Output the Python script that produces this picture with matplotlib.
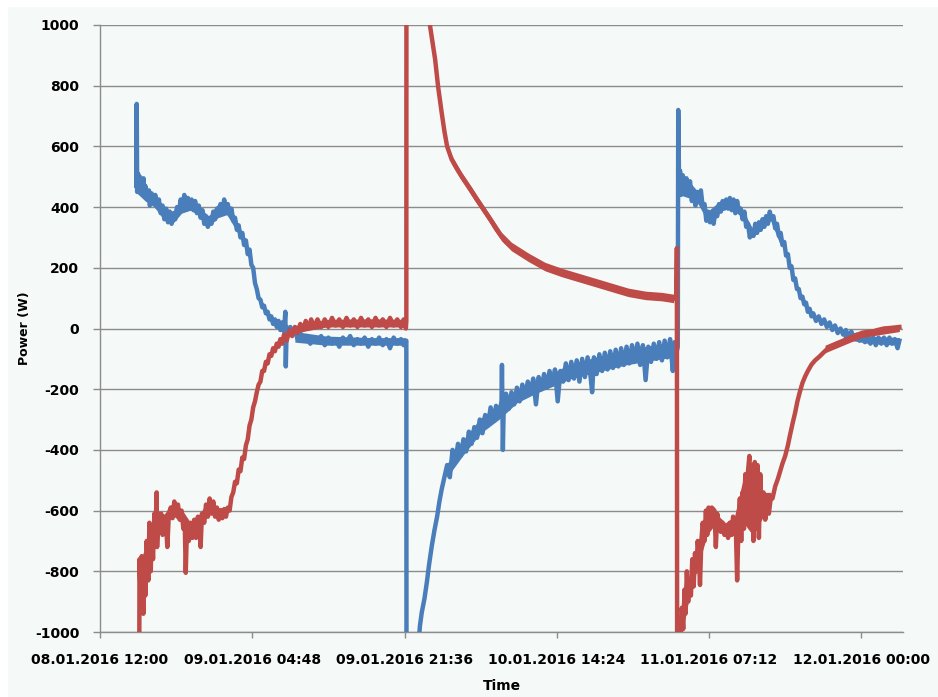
import numpy as np
import pandas as pd
import matplotlib
matplotlib.use('Agg')
import matplotlib.pyplot as plt
import matplotlib.dates as mdates
from matplotlib.patches import Rectangle

# start of the record and tick step
start = pd.Timestamp('2016-01-08 12:00')
tick_step_h = 16.8
n_ticks = 6

# blue series: hours after start, power in W
blue_hours = [
    4.00, 4.05, 4.10, 4.2, 4.3, 4.4, 4.5, 4.6, 4.7, 4.8, 4.9, 5.0, 5.2, 5.4, 5.5, 5.7, 5.9,
    6.1, 6.3, 6.5, 6.7, 6.9, 7.1, 7.3, 7.5, 7.7, 7.9, 8.1, 8.3, 8.5, 8.7, 8.9, 9.1, 9.3,
    9.5, 9.7, 9.9, 10.1, 10.3, 10.5, 10.7, 10.9, 11.1, 11.3, 11.5, 11.7, 11.9, 12.1, 12.3,
    12.5, 12.7, 12.9, 13.1, 13.3, 13.5, 13.7, 13.9, 14.1, 14.3, 14.5, 14.7, 14.9, 15.1,
    15.3, 15.5, 15.7, 15.9, 16.1, 16.3, 16.5, 16.7, 16.9, 17.1, 17.3, 17.5, 17.7, 17.9,
    18.1, 18.3, 18.5, 18.7, 18.9, 19.1, 19.3, 19.5, 19.7, 19.9, 20.1, 20.3, 20.45, 20.5,
    20.6, 20.8, 21.0, 21.2, 21.5, 21.8, 22.1, 22.4, 22.8, 23.2, 23.6, 24.0, 24.4, 24.8,
    25.2, 25.6, 26.0, 26.4, 26.8, 27.2, 27.6, 28.0, 28.4, 28.8, 29.2, 29.6, 30.0, 30.4,
    30.8, 31.2, 31.6, 32.0, 32.4, 32.8, 33.2, 33.5, 33.8, 33.82,
    35.0, 35.3, 35.5, 35.8, 36.06, 36.3, 36.6, 36.9, 37.2, 37.45, 37.7, 38.0, 38.3, 38.6,
    38.9, 39.2, 39.5, 39.8, 40.1, 40.4, 40.7, 41.0, 41.3, 41.6, 41.9, 42.2, 42.5, 42.8,
    43.1, 43.4, 43.7, 44.0, 44.3, 44.35, 44.45, 44.55, 44.8, 45.1, 45.4, 45.7, 46.0, 46.3,
    46.6, 46.9, 47.2, 47.5, 47.8, 48.1, 48.4, 48.7, 49.0, 49.3, 49.6, 49.9, 50.2, 50.5,
    50.8, 51.1, 51.4, 51.7, 52.0, 52.3, 52.6, 52.9, 53.2, 53.5, 53.8, 54.1, 54.3, 54.5,
    54.8, 55.1, 55.4, 55.7, 56.0, 56.3, 56.6, 56.9, 57.2, 57.5, 57.8, 58.1, 58.4, 58.7,
    59.0, 59.3, 59.6, 59.9, 60.2, 60.5, 60.8, 61.1, 61.4, 61.7, 62.0, 62.3, 62.6, 62.9,
    63.2, 63.4, 63.6, 63.75, 63.8, 63.9,
    64.0, 64.1, 64.3, 64.5, 64.7, 64.9, 65.1, 65.3, 65.5, 65.7, 65.9, 66.1, 66.3, 66.5,
    66.7, 66.9, 67.1, 67.3, 67.5, 67.7, 67.9, 68.1, 68.3, 68.5, 68.7, 68.9, 69.1, 69.3,
    69.5, 69.7, 69.9, 70.1, 70.3, 70.5, 70.7, 70.9, 71.1, 71.3, 71.5, 71.7, 71.9, 72.1,
    72.3, 72.5, 72.7, 72.9, 73.1, 73.3, 73.5, 73.7, 73.9, 74.1, 74.3, 74.5, 74.7, 74.9,
    75.1, 75.3, 75.5, 75.7, 75.9, 76.1, 76.3, 76.5, 76.7, 76.9, 77.1, 77.3, 77.5, 77.7,
    77.9, 78.1, 78.3, 78.5, 78.7, 79.0, 79.3, 79.6, 79.9, 80.2, 80.5, 80.8, 81.1, 81.4,
    81.7, 82.0, 82.3, 82.6, 82.9, 83.2, 83.5, 83.8, 84.1, 84.4, 84.7, 85.0, 85.3, 85.6,
    85.9, 86.2, 86.5, 86.8, 87.1, 87.4, 87.7, 88.0, 88.2,
]
blue_watts = [
    470, 740, 450, 510, 455, 500, 450, 490, 460, 495, 445, 470, 425, 455, 405, 445, 415,
    440, 400, 425, 380, 405, 360, 395, 350, 385, 345, 380, 360, 400, 380, 425, 395, 440,
    405, 430, 395, 425, 390, 420, 380, 405, 365, 390, 345, 370, 335, 365, 345,
    385, 360, 395, 375, 410, 380, 425, 390, 410, 375, 395, 355, 365, 325,
    340, 300, 315, 275, 290, 245, 260, 210, 200, 150, 130, 100, 95, 70,
    75, 50, 55, 30, 40, 15, 30, 5, 25, -5, 20, -10, 55, -125,
    5, -15, 5, -20, -5, -35, -15, -40, -25, -50, -30, -45, -25, -55,
    -30, -50, -35, -60, -30, -45, -25, -55, -35, -50, -30, -60, -35, -50,
    -30, -55, -35, -65, -30, -50, -35, -55, -40, -1300,
    -1100, -980, -936, -890, -837, -780, -718, -665, -619, -570, -530, -490, -450, -490,
    -400, -440, -380, -420, -365, -405, -340, -380, -325, -360, -300, -345, -285, -320,
    -260, -305, -255, -290, -240, -120, -400, -250, -215, -265, -210, -250, -195, -240,
    -185, -225, -175, -215, -165, -250, -160, -200, -150, -195, -140, -185, -135, -240,
    -140, -175, -115, -170, -110, -165, -105, -175, -100, -160, -95, -150, -210, -95,
    -150, -85, -140, -80, -135, -75, -130, -70, -125, -65, -120, -60, -115, -55,
    -105, -50, -120, -55, -170, -60, -110, -50, -100, -45, -105, -40, -95, -35,
    -140, -45, -80, -60, 720, 460,
    520, 440, 505, 450, 495, 455, 485, 420, 450, 405, 450, 420, 455, 400,
    410, 355, 385, 350, 380, 345, 385, 370, 410, 385, 420, 395, 425, 395,
    430, 390, 425, 380, 420, 385, 395, 360, 385, 335, 345, 300, 325, 305,
    345, 315, 350, 325, 360, 335, 370, 345, 385, 360, 370, 330, 345, 305,
    315, 275, 285, 240, 245, 200, 205, 160, 165, 130, 130, 100, 105, 80,
    85, 55, 65, 40, 50, 25, 40, 15, 30, 5, 20, -5, 10, -15,
    0, -20, -5, -30, -10, -35, -20, -40, -25, -45, -25, -50, -30, -55,
    -30, -50, -30, -55, -30, -50, -35, -65, -40,
]

# red series: hours after start, power in W
red_hours = [
    4.2, 4.34, 4.36, 4.5, 4.6, 4.78, 4.9, 5.0, 5.15, 5.33, 5.45, 5.6, 5.7, 5.85, 6.0, 6.1,
    6.25, 6.3, 6.45, 6.6, 6.75, 6.9, 7.1, 7.3, 7.43, 7.6, 7.8, 8.0, 8.2, 8.4, 8.6, 8.8,
    9.0, 9.2, 9.35, 9.46, 9.6, 9.8, 10.0, 10.2, 10.4, 10.6, 10.8, 11.0, 11.1, 11.25, 11.5,
    11.7, 11.9, 12.1, 12.3, 12.5, 12.7, 12.9, 13.1, 13.3, 13.5, 13.7, 13.9, 14.1, 14.3,
    14.5, 14.7, 14.9, 15.1, 15.3, 15.5, 15.7, 15.9, 16.1, 16.3, 16.5, 16.7, 16.9, 17.1,
    17.3, 17.5, 17.7, 17.9, 18.1, 18.3, 18.5, 18.7, 18.9, 19.1, 19.3, 19.5, 19.7, 19.9,
    20.1, 20.3, 20.6, 20.9, 21.2, 21.5, 21.8, 22.1, 22.4, 22.7, 23.0, 23.3, 23.6, 24.0,
    24.4, 24.8, 25.2, 25.6, 26.0, 26.4, 26.8, 27.2, 27.6, 28.0, 28.4, 28.8, 29.2, 29.6,
    30.0, 30.4, 30.8, 31.2, 31.6, 32.0, 32.4, 32.8, 33.2, 33.5, 33.75, 33.8, 33.82,
    36.0, 36.4, 36.98, 37.3, 37.7, 38.0, 38.3, 38.8, 39.4, 39.9, 40.5, 41.0, 41.5, 42.1,
    42.6, 43.2, 43.7, 44.3, 44.8, 45.4, 46.3, 47.3, 48.2, 49.1, 50.0, 51.0, 51.9, 52.8,
    53.7, 54.6, 55.5, 56.5, 57.4, 58.3, 59.2, 60.2, 61.1, 62.0, 62.7, 63.3, 63.6, 63.65,
    63.68,
    64.0, 64.1, 64.2, 64.35, 64.5, 64.6, 64.75, 64.9, 65.0, 65.2, 65.35, 65.5, 65.65,
    65.8, 65.95, 66.1, 66.2, 66.35, 66.5, 66.7, 66.85, 67.0, 67.15, 67.3, 67.5, 67.8,
    67.95, 68.1, 68.3, 68.5, 68.7, 68.9, 69.1, 69.3, 69.5, 69.7, 69.85, 70.15, 70.3,
    70.45, 70.6, 70.75, 70.9, 71.05, 71.2, 71.35, 71.5, 71.65, 71.8, 71.95, 72.1, 72.25,
    72.4, 72.55, 72.7, 72.85, 73.0, 73.2, 73.4, 73.6, 73.8, 74.0, 74.2, 74.5, 74.8,
    75.0, 75.3, 75.6, 75.9, 76.1, 76.4, 76.7, 76.95, 77.2, 77.5, 77.8, 78.1, 78.5,
    78.9, 79.4, 79.8, 80.3, 80.8, 81.4, 81.9, 82.5, 83.0, 83.6, 84.3, 85.1, 85.8, 86.5,
    87.3, 88.2,
]
red_watts = [
    -1100, -1000, -760, -900, -750, -940, -760, -880, -700, -830, -640, -800, -650, -760, -610, -700,
    -540, -720, -610, -660, -610, -680, -620, -650, -720, -610, -590, -625, -570, -610, -580, -630,
    -600, -660, -640, -805, -650, -700, -640, -690, -630, -690, -620, -660, -720, -610, -640,
    -580, -620, -560, -610, -570, -620, -590, -630, -600, -625, -595, -620, -590, -600,
    -555, -540, -505, -510, -465, -470, -425, -430, -385, -365, -320, -300, -260, -240,
    -210, -185, -175, -140, -140, -110, -115, -85, -90, -65, -75, -50, -60, -35,
    -50, -20, -40, -5, -25, 5, -15, 15, -5, 25, 0, 30, 5, 30,
    5, 30, 5, 35, 10, 30, 5, 35, 10, 30, 5, 35, 10, 30,
    5, 35, 10, 30, 5, 35, 10, 30, 5, 30, 0, 25, 2200,
    1100, 1000, 886, 798, 711, 650, 600, 557, 525, 501, 475, 452, 428, 402,
    380, 353, 328, 303, 285, 270, 250, 234, 218, 204, 194, 184, 176, 168,
    160, 152, 143, 135, 127, 119, 113, 109, 106, 105, 102, 99, 100, 265,
    -1200,
    -1050, -1000, -920, -990, -860, -940, -800, -900, -830, -880, -760, -850, -740,
    -800, -700, -760, -845, -700, -640, -700, -600, -680, -590, -640, -590, -600,
    -720, -610, -650, -670, -640, -680, -650, -690, -640, -680, -620, -650, -830,
    -640, -560, -700, -540, -660, -480, -620, -470, -420, -640, -450, -700, -440,
    -660, -450, -690, -480, -620, -540, -630, -570, -610, -560, -560, -520, -495,
    -475, -445, -420, -385, -356, -315, -277, -240, -211, -180, -158, -140, -119,
    -105, -92, -80, -66, -57, -49, -44, -40, -30, -23, -17, -13, -5, 0,
    2, 5,
]

# spread of the noisy stretches (low / high edge of the band), hours and W
blue_band_hours = [
    [4.1, 5, 6, 7, 8, 9, 10, 11, 12, 13, 14, 15, 16],
    [21.5, 25, 30, 33.7],
    [38.3, 40, 42, 44, 46, 48, 50, 52, 54, 56, 58, 60, 62, 63.6],
    [64.0, 65, 66, 67, 68, 69, 70, 71, 72, 73, 74, 75],
    [82, 85, 88.2],
]
blue_band_lo = [
    [445, 420, 400, 360, 345, 380, 390, 370, 335, 365, 375, 325, 270],
    [-45, -55, -55, -55],
    [-490, -420, -345, -300, -245, -215, -190, -165, -150, -135, -120, -110, -100, -95],
    [440, 430, 410, 355, 375, 395, 385, 365, 305, 330, 355, 280],
    [-35, -50, -55],
]
blue_band_hi = [
    [510, 470, 440, 400, 385, 430, 425, 400, 370, 410, 415, 360, 295],
    [-10, -25, -30, -30],
    [-445, -370, -295, -250, -200, -170, -145, -115, -100, -85, -70, -60, -50, -45],
    [515, 485, 450, 385, 410, 425, 420, 385, 330, 360, 380, 310],
    [-5, -25, -30],
]
red_band_hours = [
    [4.5, 5, 5.5, 6, 6.5, 7, 8, 9, 10, 11, 12, 13, 14, 14.5],
    [21.5, 25, 30, 33.7],
    [38.3, 38.8, 39.9, 41.0, 42.1, 43.2, 44.3, 45.4, 47.3, 49.1, 51.0, 52.8, 54.6, 56.5,
     58.3, 60.2, 62.0, 63.3],
    [64.3, 65, 66, 67, 68, 69, 70, 71, 72, 73, 74],
    [80, 84, 88.2],
]
red_band_lo = [
    [-920, -860, -790, -720, -660, -650, -615, -640, -680, -650, -605, -620, -610, -590],
    [-15, 5, 5, 5],
    [586, 543, 487, 438, 388, 339, 289, 256, 220, 190, 170, 154, 138, 121, 105, 95, 91, 85],
    [-990, -890, -780, -680, -640, -680, -660, -640, -680, -630, -570],
    [-80, -30, -10],
]
red_band_hi = [
    [-760, -720, -650, -610, -610, -615, -575, -595, -640, -610, -565, -590, -590, -555],
    [10, 30, 32, 30],
    [614, 571, 515, 466, 416, 367, 317, 284, 248, 218, 198, 182, 166, 149, 133, 123, 119, 113],
    [-880, -820, -720, -590, -610, -640, -620, -490, -460, -540, -540],
    [-55, -5, 12],
]

y_ticks = list(range(-1000, 1001, 200))

blue_col = '#4a7ebb'
red_col = '#be4b48'


def to_time(hours):
    return start + pd.to_timedelta(hours, unit='h')


plt.rcParams['font.family'] = ['DejaVu Sans']
plt.rcParams['font.weight'] = 'bold'
plt.rcParams['axes.unicode_minus'] = False

fig = plt.figure(figsize=(9.38, 6.97), dpi=100, facecolor='white')
fig.patches.append(Rectangle((8 / 938, 0), 1, 1 - 7 / 697, transform=fig.transFigure,
                             facecolor='#f5f9f7', edgecolor='none', zorder=-10))
ax = fig.add_axes([100 / 938, 1 - 632 / 697, 803 / 938, 607 / 697])
ax.set_facecolor('#f5f9f7')

for h, lo, hi in zip(blue_band_hours, blue_band_lo, blue_band_hi):
    ax.fill_between(to_time(h), lo, hi, color=blue_col, lw=0, zorder=3)
ax.plot(to_time(blue_hours), blue_watts, color=blue_col, lw=3.2, solid_joinstyle='round', zorder=3)

for h, lo, hi in zip(red_band_hours, red_band_lo, red_band_hi):
    ax.fill_between(to_time(h), lo, hi, color=red_col, lw=0, zorder=4)
ax.plot(to_time(red_hours), red_watts, color=red_col, lw=3.2, solid_joinstyle='round', zorder=4)

ax.set_ylim(-1000, 1000)
ax.set_yticks(y_ticks)
ax.set_xlim(start, start + pd.Timedelta(hours=88.6))
ax.set_xticks([start + pd.Timedelta(hours=tick_step_h * k) for k in range(n_ticks)])
ax.xaxis.set_major_formatter(mdates.DateFormatter('%d.%m.%Y %H:%M'))

ax.grid(axis='y', color='#8c8c8c', lw=1.0)
ax.set_axisbelow(True)
for s in ['top', 'right']:
    ax.spines[s].set_visible(False)
for s in ['left', 'bottom']:
    ax.spines[s].set_color('#8c8c8c')
    ax.spines[s].set_linewidth(1.0)
ax.tick_params(axis='both', colors='#8c8c8c', labelcolor='black', labelsize=10, width=1.0)
ax.tick_params(axis='y', length=5, pad=10)
ax.tick_params(axis='x', length=4, pad=11)
for lab in ax.get_xticklabels() + ax.get_yticklabels():
    lab.set_fontweight('bold')

ax.set_ylabel('Power (W)', fontsize=9, fontweight='bold')
ax.yaxis.set_label_coords(-69 / 803, 0.5)
ax.set_xlabel('Time', fontsize=10, fontweight='bold')
ax.xaxis.set_label_coords(0.5, -47 / 607)

fig.savefig('out.png', dpi=100, facecolor=fig.get_facecolor())
